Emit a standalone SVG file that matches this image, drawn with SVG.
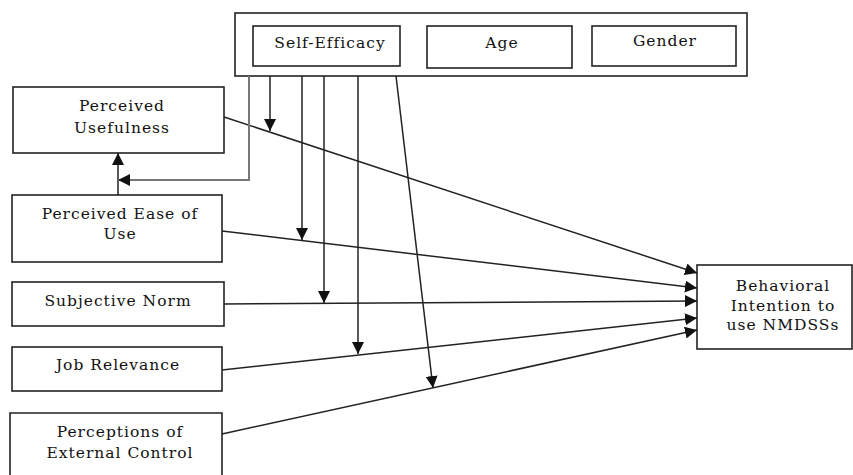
<svg xmlns="http://www.w3.org/2000/svg" width="853" height="475" viewBox="0 0 853 475">
<style>
.box{fill:#fff;stroke:#222;stroke-width:1.6}
.t{font-family:"DejaVu Serif","Liberation Serif",serif;font-size:15.5px;letter-spacing:1px;fill:#111;text-anchor:middle}
.ln{stroke:#222;stroke-width:1.5;fill:none}
.lg{stroke:#777;stroke-width:2;fill:none}
</style>
<defs>
<marker id="ah" markerUnits="userSpaceOnUse" markerWidth="12" markerHeight="12" viewBox="0 0 12 12" refX="12" refY="6" orient="auto">
<path d="M0,0 L12,6 L0,12 z" fill="#111"/>
</marker>
</defs>
<rect width="853" height="475" fill="#fff"/>
<g id="moderators">
<rect class="box" x="235" y="13" width="512" height="63"/>
</g>
<g id="self-efficacy"><rect class="box" x="253" y="26" width="147" height="40"/><text class="t" x="330" y="48">Self-Efficacy</text></g>
<g id="age"><rect class="box" x="427" y="26" width="145" height="42"/><text class="t" x="502" y="48">Age</text></g>
<g id="gender"><rect class="box" x="592" y="26" width="144" height="40"/><text class="t" x="665" y="46">Gender</text></g>
<g id="pu"><rect class="box" x="13" y="87" width="211" height="66"/><text class="t" x="122" y="111">Perceived</text><text class="t" x="122" y="133">Usefulness</text></g>
<g id="peou"><rect class="box" x="12" y="195" width="210" height="67"/><text class="t" x="120" y="219">Perceived Ease of</text><text class="t" x="120" y="239">Use</text></g>
<g id="sn"><rect class="box" x="12" y="282" width="212" height="44"/><text class="t" x="118" y="306">Subjective Norm</text></g>
<g id="jr"><rect class="box" x="12" y="347" width="210" height="44"/><text class="t" x="118" y="370">Job Relevance</text></g>
<g id="pec"><path class="box" d="M10,480 V413 H222 V480"/><text class="t" x="120" y="437">Perceptions of</text><text class="t" x="120" y="458">External Control</text></g>
<g id="bi"><rect class="box" x="697" y="265" width="155" height="84"/><text class="t" x="783" y="291">Behavioral</text><text class="t" x="783" y="311">Intention to</text><text class="t" x="783" y="330">use NMDSSs</text></g>
<g id="connectors">
<line class="ln" x1="224" y1="117" x2="697" y2="273" marker-end="url(#ah)"/>
<line class="ln" x1="222" y1="231" x2="697" y2="288" marker-end="url(#ah)"/>
<line class="ln" x1="224" y1="304" x2="697" y2="301" marker-end="url(#ah)"/>
<line class="ln" x1="222" y1="370" x2="697" y2="318" marker-end="url(#ah)"/>
<line class="ln" x1="222" y1="434" x2="697" y2="330" marker-end="url(#ah)"/>
<line class="ln" x1="118" y1="195" x2="118" y2="153" marker-end="url(#ah)"/>
<polyline class="lg" points="249,76 249,180 118,180" marker-end="url(#ah)"/>
<line class="ln" x1="270" y1="76" x2="270" y2="131" marker-end="url(#ah)"/>
<line class="ln" x1="302" y1="76" x2="302" y2="240" marker-end="url(#ah)"/>
<line class="ln" x1="324" y1="76" x2="324" y2="303" marker-end="url(#ah)"/>
<line class="ln" x1="358" y1="76" x2="358" y2="354" marker-end="url(#ah)"/>
<line class="ln" x1="396" y1="76" x2="433" y2="388" marker-end="url(#ah)"/>
</g>
</svg>
